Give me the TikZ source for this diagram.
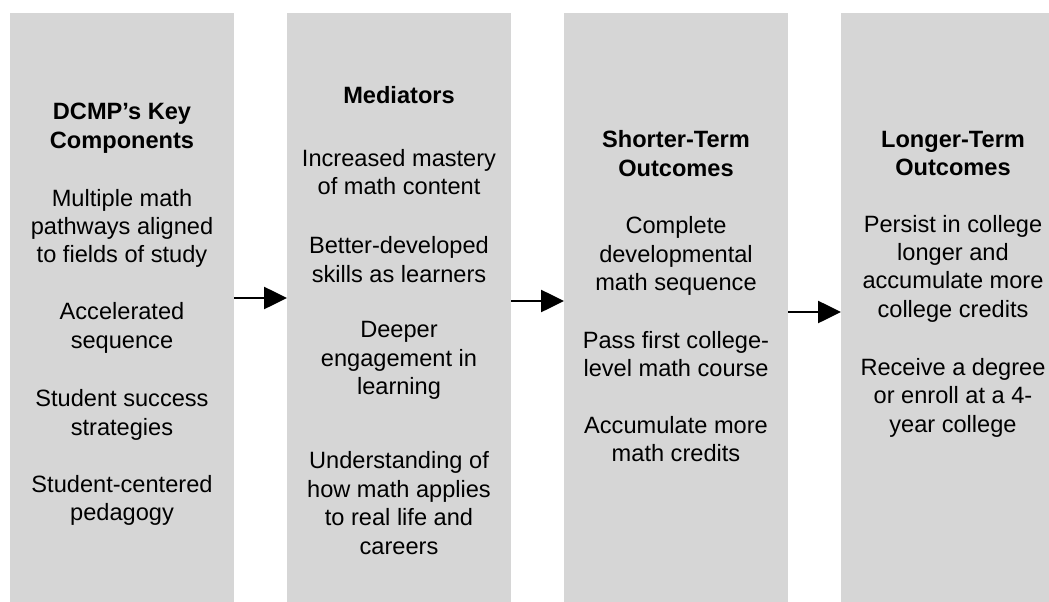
\documentclass[tikz,border=0pt]{standalone}
\usepackage{fontspec}
\setmainfont{Liberation Sans}
\usetikzlibrary{arrows.meta}
\definecolor{boxgrey}{RGB}{214,214,214}
\begin{document}
\begin{tikzpicture}[x=1pt,y=1pt,
  box/.style={fill=boxgrey, draw=none, anchor=north west, minimum width=224pt, minimum height=620pt, inner sep=0pt},
  txt/.style={anchor=base, inner sep=0pt, font=\fontsize{23.6}{28.6}\selectfont},
  ttl/.style={txt, font=\fontsize{23.6}{28.6}\selectfont\bfseries},
  arr/.style={line width=2.6pt, -{Triangle[length=23pt,width=22pt]}}]
\useasboundingbox (0,0) rectangle (1049,-602);
\clip (0,0) rectangle (1049,-602);
\node[box] (b1) at (10,-13) {};
\node[box] (b2) at (287,-13) {};
\node[box] (b3) at (564,-13) {};
\node[box] (b4) at (841,-13) {};
% column 1
\node[ttl] (t1a) at (122,-119) {DCMP’s Key};
\node[ttl] (t1b) at (122,-148) {Components};
\node[txt] (c1a) at (122,-206) {Multiple math};
\node[txt] (c1b) at (122,-234) {pathways aligned};
\node[txt] (c1c) at (122,-262) {to fields of study};
\node[txt] (c1d) at (122,-319) {Accelerated};
\node[txt] (c1e) at (122,-348) {sequence};
\node[txt] (c1f) at (122,-406) {Student success};
\node[txt] (c1g) at (122,-435) {strategies};
\node[txt] (c1h) at (122,-492) {Student-centered};
\node[txt] (c1i) at (122,-520) {pedagogy};
% column 2
\node[ttl] (t2a) at (399,-103) {Mediators};
\node[txt] (c2a) at (399,-166) {Increased mastery};
\node[txt] (c2b) at (399,-194) {of math content};
\node[txt] (c2c) at (399,-253) {Better-developed};
\node[txt] (c2d) at (399,-282) {skills as learners};
\node[txt] (c2e) at (399,-337) {Deeper};
\node[txt] (c2f) at (399,-366) {engagement in};
\node[txt] (c2g) at (399,-394) {learning};
\node[txt] (c2h) at (399,-468) {Understanding of};
\node[txt] (c2i) at (399,-497) {how math applies};
\node[txt] (c2j) at (399,-525) {to real life and};
\node[txt] (c2k) at (399,-554) {careers};
% column 3
\node[ttl] (t3a) at (676,-147) {Shorter-Term};
\node[ttl] (t3b) at (676,-176) {Outcomes};
\node[txt] (c3a) at (676,-233) {Complete};
\node[txt] (c3b) at (676,-262) {developmental};
\node[txt] (c3c) at (676,-290) {math sequence};
\node[txt] (c3d) at (676,-348) {Pass first college-};
\node[txt] (c3e) at (676,-376) {level math course};
\node[txt] (c3f) at (676,-433) {Accumulate more};
\node[txt] (c3g) at (676,-461) {math credits};
% column 4
\node[ttl] (t4a) at (953,-147) {Longer-Term};
\node[ttl] (t4b) at (953,-175) {Outcomes};
\node[txt] (c4a) at (953,-232) {Persist in college};
\node[txt] (c4b) at (953,-260) {longer and};
\node[txt] (c4c) at (953,-288) {accumulate more};
\node[txt] (c4d) at (953,-317) {college credits};
\node[txt] (c4e) at (953,-375) {Receive a degree};
\node[txt] (c4f) at (953,-403) {or enroll at a 4-};
\node[txt] (c4g) at (953,-432) {year college};
% arrows
\coordinate (y1) at (0,-298);
\coordinate (y2) at (0,-301);
\coordinate (y3) at (0,-312);
\draw[arr] (b1.east |- y1) -- (b2.west |- y1);
\draw[arr] (b2.east |- y2) -- (b3.west |- y2);
\draw[arr] (b3.east |- y3) -- (b4.west |- y3);
\end{tikzpicture}
\end{document}
